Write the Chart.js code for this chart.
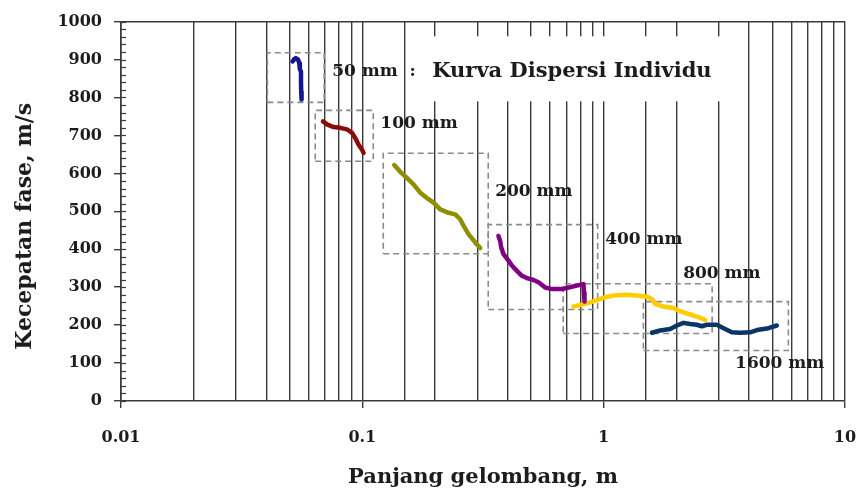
<!DOCTYPE html>
<html>
<head>
<meta charset="utf-8">
<script src="https://cdn.jsdelivr.net/npm/chart.js@4.4.1/dist/chart.umd.min.js"></script>
<style>
html,body{margin:0;padding:0;background:#fff;}
#wrap{width:857px;height:493px;}
</style>
</head>
<body>
<div id="wrap"><canvas id="c" width="857" height="493"></canvas></div>
<script>
// ---------- DATA ----------
const X_TICK_LABELS = ['0.01', '0.1', '1', '10'];
const Y_TICK_LABELS = [0, 100, 200, 300, 400, 500, 600, 700, 800, 900, 1000];
const SERIES_NAMES = ['50 mm', '100 mm', '200 mm', '400 mm', '800 mm', '1600 mm'];
const TITLE_TEXT = 'Kurva Dispersi Individu';
const X_TITLE = 'Panjang gelombang, m';
const Y_TITLE = 'Kecepatan fase, m/s';

// wavelength (m) and phase velocity (m/s) of each curve
const WL_50 = [0.0514, 0.0522, 0.0530, 0.0542, 0.0548, 0.0551, 0.0557, 0.0557, 0.0558, 0.0560];
const V_50  = [895, 901, 904, 900, 890, 875, 868, 842, 816, 795];

const WL_100 = [0.0687, 0.0714, 0.0760, 0.0810, 0.0864, 0.0906, 0.0935, 0.0964, 0.0996, 0.1012];
const V_100  = [737, 729, 722, 720, 716, 707, 693, 676, 663, 654];

const WL_200 = [0.1356, 0.1436, 0.1530, 0.1630, 0.1738, 0.1880, 0.1972, 0.2103, 0.2276, 0.2425, 0.2544, 0.2626, 0.2754, 0.2936, 0.3079];
const V_200  = [622, 604, 588, 571, 549, 532, 523, 505, 496, 492, 479, 462, 440, 418, 403];

const WL_400 = [0.3665, 0.3726, 0.3761, 0.3845, 0.4032, 0.4165, 0.4370, 0.4584, 0.4808, 0.5120, 0.5370, 0.5724, 0.6104, 0.6713, 0.7151, 0.7745, 0.8249, 0.8290, 0.8329];
const V_400  = [435, 422, 405, 387, 370, 357, 343, 330, 324, 319, 313, 299, 295, 295, 299, 304, 308, 285, 262];

const WL_800 = [0.750, 0.812, 0.879, 0.937, 1.031, 1.134, 1.248, 1.373, 1.510, 1.584, 1.635, 1.769, 1.945, 2.075, 2.282, 2.470, 2.634];
const V_800  = [249, 254, 260, 266, 275, 279, 280, 278, 275, 269, 256, 249, 245, 236, 228, 221, 214];

const WL_1600 = [1.584, 1.714, 1.886, 2.011, 2.141, 2.282, 2.432, 2.551, 2.676, 2.943, 3.185, 3.397, 3.676, 4.045, 4.378, 4.816, 5.219];
const V_1600  = [180, 186, 190, 199, 206, 203, 201, 197, 201, 201, 190, 181, 180, 181, 188, 192, 199];

// dashed selection windows: [wavelength min, wavelength max, velocity min, velocity max]
const BOX_50   = [0.0404, 0.0695, 787, 918];
const BOX_100  = [0.0638, 0.1110, 632, 766];
const BOX_200  = [0.1221, 0.3324, 388, 653];
const BOX_400  = [0.3324, 0.9443, 241, 465];
const BOX_800  = [0.6796, 2.815, 178, 309];
const BOX_1600 = [1.461, 5.826, 133, 262];

// ---------- LAYOUT / STYLE ----------
const COLORS = ['#16168e', '#8b0b0b', '#8e8e00', '#820082', '#ffcc00', '#0b3566'];
const LABEL_ANCHORS = [ // left / middle of each label, in data space
  {x: 0.0750, y: 869},
  {x: 0.1187, y: 732},
  {x: 0.3552, y: 553},
  {x: 1.0144, y: 425},
  {x: 2.135,  y: 336},
  {x: 3.505,  y: 99}
];
const TITLE_ANCHOR = {x: 0.1949, y: 869};
const SERIF = '"DejaVu Serif", "Liberation Serif", serif';
const INK = '#1c1c1c';
const GRID = '#3a3a3a';

function pts(xs, ys) { return xs.map((v, i) => ({x: v, y: ys[i]})); }
function boxPts(b) {
  return [{x: b[0], y: b[2]}, {x: b[1], y: b[2]}, {x: b[1], y: b[3]}, {x: b[0], y: b[3]}, {x: b[0], y: b[2]}];
}
function isDecade(v) { const l = Math.log10(v); return Math.abs(l - Math.round(l)) < 1e-6; }

const curves = [[WL_50, V_50], [WL_100, V_100], [WL_200, V_200], [WL_400, V_400], [WL_800, V_800], [WL_1600, V_1600]];
const boxes = [BOX_50, BOX_100, BOX_200, BOX_400, BOX_800, BOX_1600];

const datasets = [];
curves.forEach((c, i) => datasets.push({
  label: SERIES_NAMES[i], data: pts(c[0], c[1]), showLine: true,
  borderColor: COLORS[i], backgroundColor: COLORS[i], borderWidth: 4.5,
  pointRadius: 0, tension: 0, borderCapStyle: 'round', borderJoinStyle: 'round'
}));
boxes.forEach((b, i) => datasets.push({
  label: 'window ' + SERIES_NAMES[i], data: boxPts(b), showLine: true,
  borderColor: '#8a8a8a', borderWidth: 1.6, borderDash: [6, 4],
  pointRadius: 0, tension: 0
}));

const decor = {
  id: 'decor',
  beforeDatasetsDraw(chart) {
    const {ctx, scales: {x, y}} = chart;
    ctx.save();
    ctx.font = 'bold 21px ' + SERIF;
    const tx = x.getPixelForValue(TITLE_ANCHOR.x), ty = y.getPixelForValue(TITLE_ANCHOR.y);
    const w = ctx.measureText(TITLE_TEXT).width;
    ctx.fillStyle = '#fff';
    ctx.fillRect(tx - 8, ty - 35, w + 22, 65);
    ctx.restore();
  },
  afterDatasetsDraw(chart) {
    const {ctx, chartArea, scales: {x, y}} = chart;
    ctx.save();
    // inner tick marks on the value axis
    ctx.strokeStyle = GRID; ctx.lineWidth = 1.2;
    y.ticks.forEach(t => {
      const py = Math.round(y.getPixelForValue(t.value)) + 0.5;
      ctx.beginPath(); ctx.moveTo(chartArea.left, py); ctx.lineTo(chartArea.left + 5, py); ctx.stroke();
    });
    // labels
    ctx.fillStyle = INK; ctx.textBaseline = 'middle'; ctx.textAlign = 'left';
    ctx.font = 'bold 17px ' + SERIF;
    SERIES_NAMES.forEach((n, i) => {
      const a = LABEL_ANCHORS[i];
      const txt = i === 0 ? n + '  :' : n;
      ctx.fillText(txt, x.getPixelForValue(a.x), y.getPixelForValue(a.y));
    });
    ctx.font = 'bold 21px ' + SERIF;
    ctx.fillText(TITLE_TEXT, x.getPixelForValue(TITLE_ANCHOR.x), y.getPixelForValue(TITLE_ANCHOR.y));
    // value axis title
    ctx.font = 'bold 22px ' + SERIF;
    ctx.translate(25, (chartArea.top + chartArea.bottom) / 2 + 15);
    ctx.rotate(-Math.PI / 2);
    ctx.textAlign = 'center';
    ctx.fillText(Y_TITLE, 0, 0);
    ctx.restore();
  }
};

new Chart(document.getElementById('c'), {
  type: 'scatter',
  data: {datasets},
  options: {
    responsive: false, animation: false, devicePixelRatio: 1,
    layout: {padding: {top: 20, right: 12, left: 0, bottom: 0}},
    plugins: {legend: {display: false}, tooltip: {enabled: false}},
    scales: {
      x: {
        type: 'logarithmic', min: 0.01, max: 10, position: 'bottom',
        afterFit: s => { s.height = 92; s.paddingRight = 12; s.paddingLeft = 0; },
        ticks: {
          autoSkip: false, maxRotation: 0, padding: 20, color: INK,
          font: {family: SERIF, size: 16, weight: 'bold'},
          callback: v => isDecade(v) ? X_TICK_LABELS[Math.round(Math.log10(v)) + 2] : ''
        },
        grid: {
          color: GRID, lineWidth: 1.4, tickLength: 7,
          tickColor: ctx => (ctx.tick && isDecade(ctx.tick.value)) ? GRID : 'rgba(0,0,0,0)'
        },
        border: {color: GRID, width: 1.6},
        title: {display: true, text: X_TITLE, color: INK, padding: {top: 0, bottom: 3},
          font: {family: SERIF, size: 21, weight: 'bold'}}
      },
      y: {
        min: 0, max: 1000,
        afterFit: s => { s.width = 121; },
        ticks: {
          stepSize: 20, autoSkip: false, padding: 12, color: INK,
          font: {family: SERIF, size: 16, weight: 'bold'},
          callback: v => Y_TICK_LABELS.includes(v) ? String(v) : ''
        },
        grid: {
          lineWidth: 1.4, tickLength: 7,
          color: ctx => (ctx.tick && ctx.tick.value === 1000) ? GRID : 'rgba(0,0,0,0)',
          tickColor: ctx => (ctx.tick && Y_TICK_LABELS.includes(ctx.tick.value)) ? GRID : 'rgba(0,0,0,0)'
        },
        border: {color: GRID, width: 1.6}
      }
    }
  },
  plugins: [decor]
});
</script>
</body>
</html>
